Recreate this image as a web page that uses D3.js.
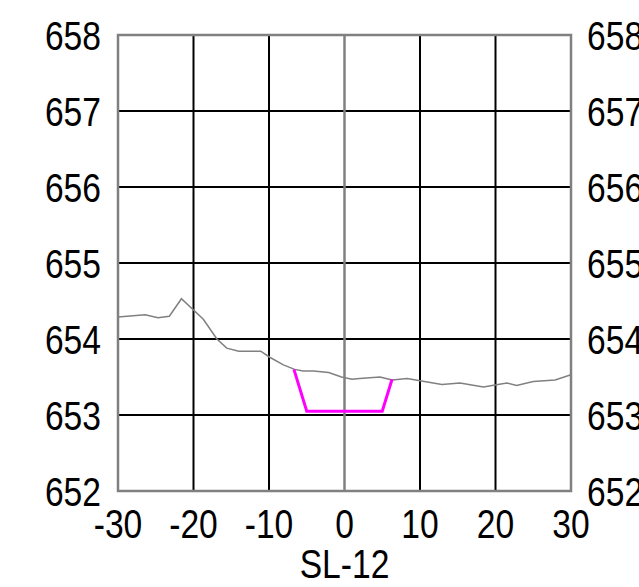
<!DOCTYPE html>
<html>
<head>
<meta charset="utf-8">
<script src="https://cdn.jsdelivr.net/npm/d3@7"></script>
<style>
  html, body { margin: 0; padding: 0; background: #fff; overflow: hidden; }
  svg { display: block; }
  text { font-family: "Liberation Sans Narrow", "Arial Narrow", "Liberation Sans", sans-serif; fill: #000; }
</style>
</head>
<body>
<svg id="chart" width="639" height="587"></svg>
<script>
// Station offsets (m) and ground elevation (m) along cross-section SL-12
const groundOffset = [-30, -26.4, -24.7, -23.2, -21.6, -18.7, -16.9, -15.6, -14.0, -11.1, -9.9, -8.1, -6.6, -5.5, -4.1, -2.1, -0.4, 1.0, 2.0, 4.7, 6.3, 8.3, 10.0, 12.9, 15.3, 18.4, 21.5, 22.8, 25.0, 27.9, 30];
const groundElev   = [654.29, 654.32, 654.28, 654.30, 654.53, 654.26, 654.00, 653.88, 653.84, 653.84, 653.76, 653.66, 653.60, 653.58, 653.58, 653.56, 653.50, 653.47, 653.48, 653.50, 653.46, 653.48, 653.45, 653.40, 653.42, 653.37, 653.42, 653.39, 653.44, 653.46, 653.53];

// Design channel section (trapezoid)
const channelOffset = [-6.7, -5.0, 5.0, 6.3];
const channelElev   = [653.60, 653.05, 653.05, 653.47];

// Axis ticks
const xTicks = [-30, -20, -10, 0, 10, 20, 30];
const yTicks = [652, 653, 654, 655, 656, 657, 658];
const sectionLabel = "SL-12";

const svg = d3.select("#chart");
const plot = { left: 118, right: 571, top: 35, bottom: 491 };

const x = d3.scaleLinear().domain([-30, 30]).range([plot.left, plot.right]);
const y = d3.scaleLinear().domain([652, 658]).range([plot.bottom, plot.top]);

// Grid
const grid = svg.append("g");
grid.selectAll("line.h").data(yTicks.slice(1, -1)).join("line")
  .attr("x1", plot.left).attr("x2", plot.right)
  .attr("y1", d => y(d)).attr("y2", d => y(d))
  .attr("stroke", "#000").attr("stroke-width", 2);
grid.selectAll("line.v").data(xTicks.slice(1, -1)).join("line")
  .attr("y1", plot.top).attr("y2", plot.bottom)
  .attr("x1", d => x(d)).attr("x2", d => x(d))
  .attr("stroke", d => d === 0 ? "#808080" : "#000")
  .attr("stroke-width", d => d === 0 ? 2.5 : 2);

// Frame
svg.append("rect")
  .attr("x", plot.left).attr("y", plot.top)
  .attr("width", plot.right - plot.left).attr("height", plot.bottom - plot.top)
  .attr("fill", "none").attr("stroke", "#808080").attr("stroke-width", 2.5);

// Ground profile
const ground = d3.line().x((d, i) => x(groundOffset[i])).y((d, i) => y(groundElev[i]));
svg.append("path")
  .attr("d", ground(groundOffset))
  .attr("fill", "none").attr("stroke", "#808080").attr("stroke-width", 1.5);

// Channel
const channel = d3.line().x((d, i) => x(channelOffset[i])).y((d, i) => y(channelElev[i]));
svg.append("path")
  .attr("d", channel(channelOffset))
  .attr("fill", "none").attr("stroke", "#ff00ff").attr("stroke-width", 3)
  .attr("stroke-linejoin", "miter");

// Labels use a condensed face; squeeze horizontally if no narrow font is present
const fs = 41;
const squeeze = 0.82;
const at = (px, py) => `translate(${px},${py}) scale(${squeeze},1)`;

svg.append("g").selectAll("text").data(yTicks).join("text")
  .attr("transform", d => at(101, y(d) + fs * 0.36))
  .attr("text-anchor", "end").attr("font-size", fs)
  .text(d => d);
svg.append("g").selectAll("text").data(yTicks).join("text")
  .attr("transform", d => at(587, y(d) + fs * 0.36))
  .attr("text-anchor", "start").attr("font-size", fs)
  .text(d => d);
svg.append("g").selectAll("text").data(xTicks).join("text")
  .attr("transform", d => at(x(d), 538))
  .attr("text-anchor", "middle").attr("font-size", fs)
  .text(d => d);
svg.append("text")
  .attr("transform", at(x(0), 578))
  .attr("text-anchor", "middle").attr("font-size", fs)
  .text(sectionLabel);
</script>
</body>
</html>
